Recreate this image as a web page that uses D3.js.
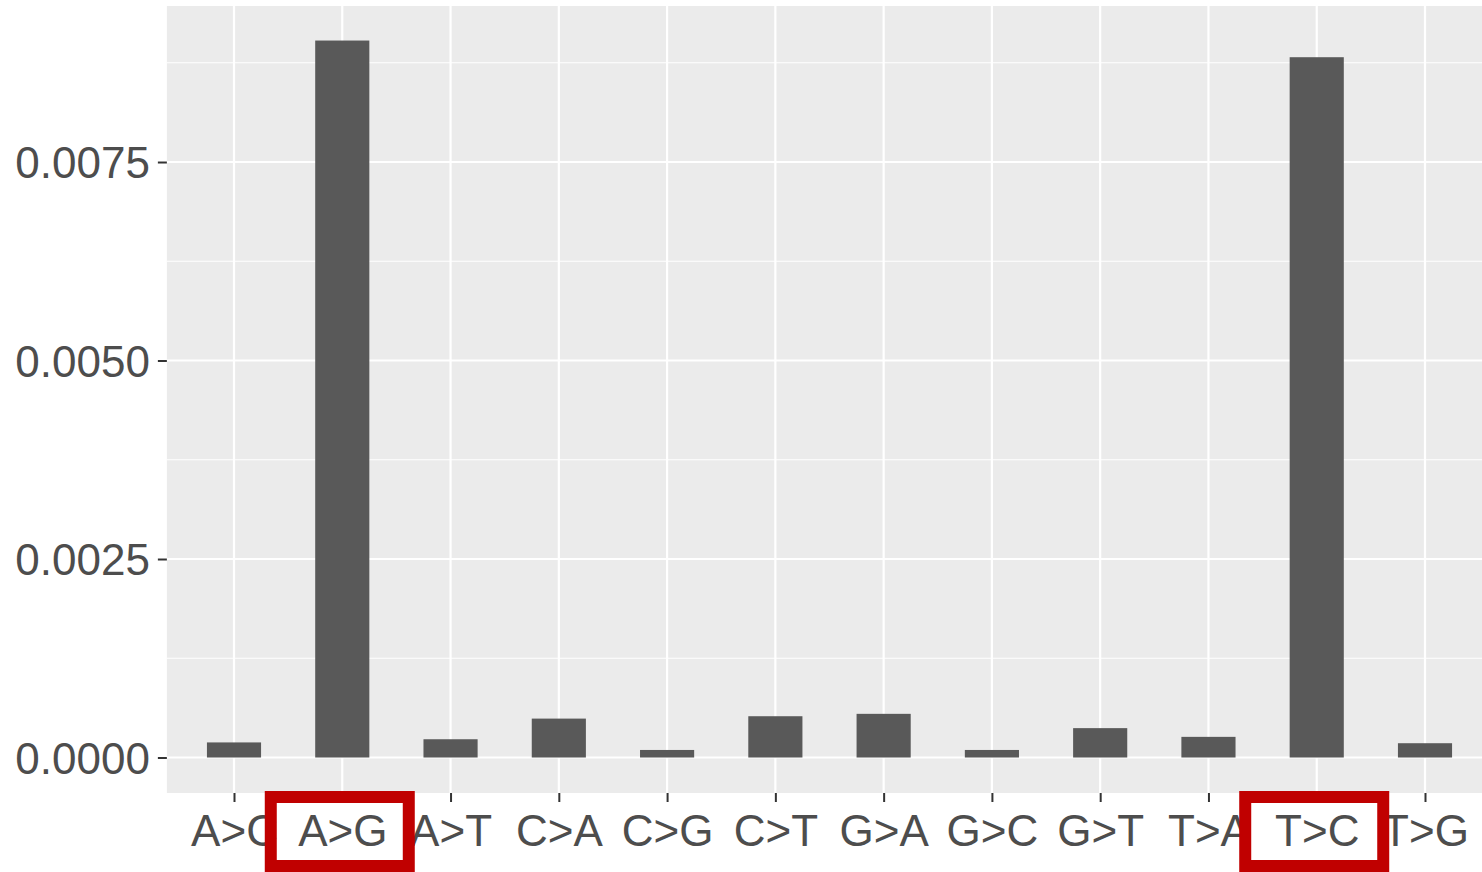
<!DOCTYPE html>
<html>
<head>
<meta charset="utf-8">
<script src="https://cdn.jsdelivr.net/npm/d3@7"></script>
<style>
  body { margin: 0; background: #fff; }
  text { font-family: "Liberation Sans", Arial, sans-serif; }
</style>
</head>
<body>
<script>
// substitution types and their frequencies
const mutations = ["A>C", "A>G", "A>T", "C>A", "C>G", "C>T", "G>A", "G>C", "G>T", "T>A", "T>C", "T>G"];
const freqs = [0.00019, 0.00903, 0.00023, 0.00049, 0.000095, 0.00052, 0.00055, 0.000095, 0.00037, 0.00026, 0.00882, 0.00018];
const yTicks = [0, 0.0025, 0.005, 0.0075];
const yMinor = [0.00125, 0.00375, 0.00625, 0.00875];
const highlighted = ["A>G", "T>C"];

const width = 1482, height = 872;
const panelTop = 6, panelBottom = 793;

const svg = d3.select("body").append("svg")
  .attr("width", width)
  .attr("height", height);

const x = d3.scalePoint().domain(mutations).range([234, 1425]);
const step = x.step();
const y = d3.scaleLinear().domain([-0.000447, 0.009465]).range([panelBottom, panelTop]);

const panelLeft = x(mutations[0]) - 0.62 * step;
const panelRight = x(mutations[mutations.length - 1]) + 0.6 * step;

// panel background
svg.append("rect")
  .attr("x", panelLeft)
  .attr("y", panelTop)
  .attr("width", panelRight - panelLeft)
  .attr("height", panelBottom - panelTop)
  .attr("fill", "#ebebeb");

// grid lines
svg.selectAll(".minor")
  .data(yMinor)
  .enter().append("line")
  .attr("x1", panelLeft).attr("x2", panelRight)
  .attr("y1", d => y(d)).attr("y2", d => y(d))
  .attr("stroke", "#fff").attr("stroke-width", 1.1);

svg.selectAll(".major")
  .data(yTicks)
  .enter().append("line")
  .attr("x1", panelLeft).attr("x2", panelRight)
  .attr("y1", d => y(d)).attr("y2", d => y(d))
  .attr("stroke", "#fff").attr("stroke-width", 2.2);

svg.selectAll(".vgrid")
  .data(mutations)
  .enter().append("line")
  .attr("x1", d => x(d)).attr("x2", d => x(d))
  .attr("y1", panelTop).attr("y2", panelBottom)
  .attr("stroke", "#fff").attr("stroke-width", 2.2);

// bars
const barW = step * 0.5;
svg.selectAll(".bar")
  .data(mutations)
  .enter().append("rect")
  .attr("class", "bar")
  .attr("x", d => x(d) - barW / 2)
  .attr("y", (d, i) => y(freqs[i]))
  .attr("width", barW)
  .attr("height", (d, i) => y(0) - y(freqs[i]))
  .attr("fill", "#595959");

// y axis
const yAxis = svg.append("g")
  .attr("transform", `translate(${panelLeft},0)`)
  .call(d3.axisLeft(y).tickValues(yTicks).tickSize(9).tickPadding(8).tickFormat(d3.format(".4f")));
yAxis.select(".domain").remove();
yAxis.selectAll(".tick line").attr("stroke", "#333").attr("stroke-width", 2);
yAxis.selectAll(".tick text")
  .attr("fill", "#4d4d4d")
  .attr("font-size", 44)
  .attr("font-family", "'Liberation Sans', Arial, sans-serif")
  .attr("dy", "0.36em");

// x axis
const xAxis = svg.append("g")
  .attr("transform", `translate(0,${panelBottom})`)
  .call(d3.axisBottom(x).tickSize(9).tickPadding(13));
xAxis.select(".domain").remove();
xAxis.selectAll(".tick line").attr("stroke", "#333").attr("stroke-width", 2);
xAxis.selectAll(".tick text")
  .attr("fill", "#4d4d4d")
  .attr("font-size", 44)
  .attr("font-family", "'Liberation Sans', Arial, sans-serif")
  .attr("dy", "0.71em");

// red highlight boxes
svg.selectAll(".hl")
  .data(highlighted)
  .enter().append("rect")
  .attr("x", d => x(d) - 71.5)
  .attr("y", 797)
  .attr("width", 138)
  .attr("height", 69)
  .attr("fill", "none")
  .attr("stroke", "#c00000")
  .attr("stroke-width", 12);
</script>
</body>
</html>
